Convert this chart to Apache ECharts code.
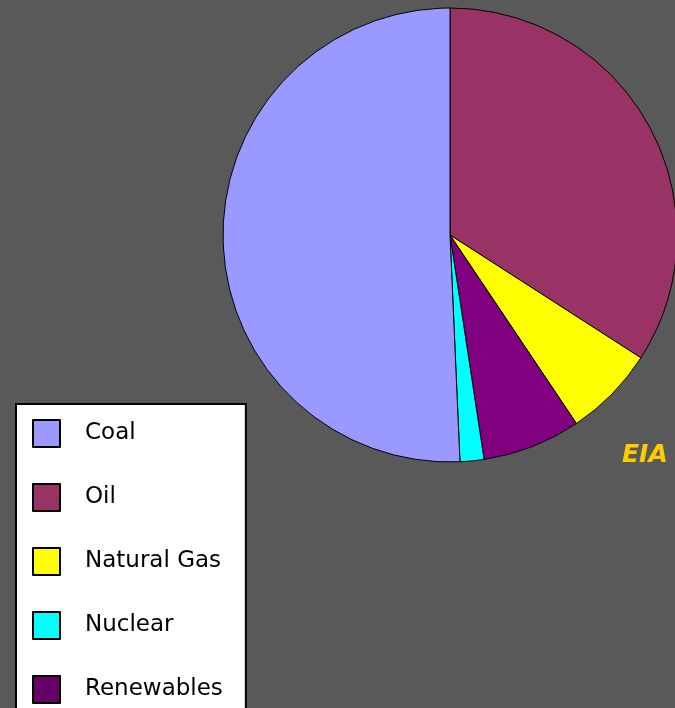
<!DOCTYPE html>
<html><head><meta charset="utf-8">
<script src="https://cdn.jsdelivr.net/npm/echarts@6/dist/echarts.min.js"></script>
<style>html,body{margin:0;padding:0;background:#595959;}#c{width:675px;height:708px;}</style>
</head><body><div id="c"></div>
<script>
const sliceOrder = ['Oil', 'Natural Gas', 'Renewables', 'Nuclear', 'Coal'];
const sliceValues = [34.1, 6.5, 7.0, 1.7, 50.7];
const legendOrder = ['Coal', 'Oil', 'Natural Gas', 'Nuclear', 'Renewables'];
const colors = {'Coal':'#9999FF','Oil':'#993366','Natural Gas':'#FFFF00','Nuclear':'#00FFFF','Renewables':'#800080'};
const legendColors = {'Coal':'#9999FF','Oil':'#993366','Natural Gas':'#FFFF00','Nuclear':'#00FFFF','Renewables':'#660066'};
const sourceText = 'EIA';

const chart = echarts.init(document.getElementById('c'));
chart.setOption({
  animation: false,
  backgroundColor: '#595959',
  legend: {
    orient: 'vertical',
    left: 16, top: 404,
    height: 500,
    backgroundColor: '#ffffff',
    borderColor: '#000000',
    borderWidth: 2,
    borderRadius: 0,
    padding: [15, 23, 20, 16],
    itemWidth: 27, itemHeight: 27, itemGap: 35,
    selectedMode: false,
    textStyle: {fontFamily: 'DejaVu Sans', fontSize: 23, color: '#000', padding: [0,0,0,20]},
    data: legendOrder.map(n => ({name: n, icon: 'rect', itemStyle: {color: legendColors[n], borderColor: '#000', borderWidth: 2}}))
  },
  graphic: [{
    type: 'text', left: 622, top: 443,
    style: {text: sourceText, fill: '#FFCC00', font: 'italic bold 25px "DejaVu Sans"'}
  }],
  series: [{
    type: 'pie',
    center: [450, 235],
    radius: 227,
    startAngle: 90,
    clockwise: true,
    label: {show: false}, labelLine: {show: false},
    emphasis: {disabled: true},
    itemStyle: {borderColor: '#000', borderWidth: 1},
    data: sliceOrder.map((n, i) => ({name: n, value: sliceValues[i], itemStyle: {color: colors[n]}}))
  }]
});
</script></body></html>
